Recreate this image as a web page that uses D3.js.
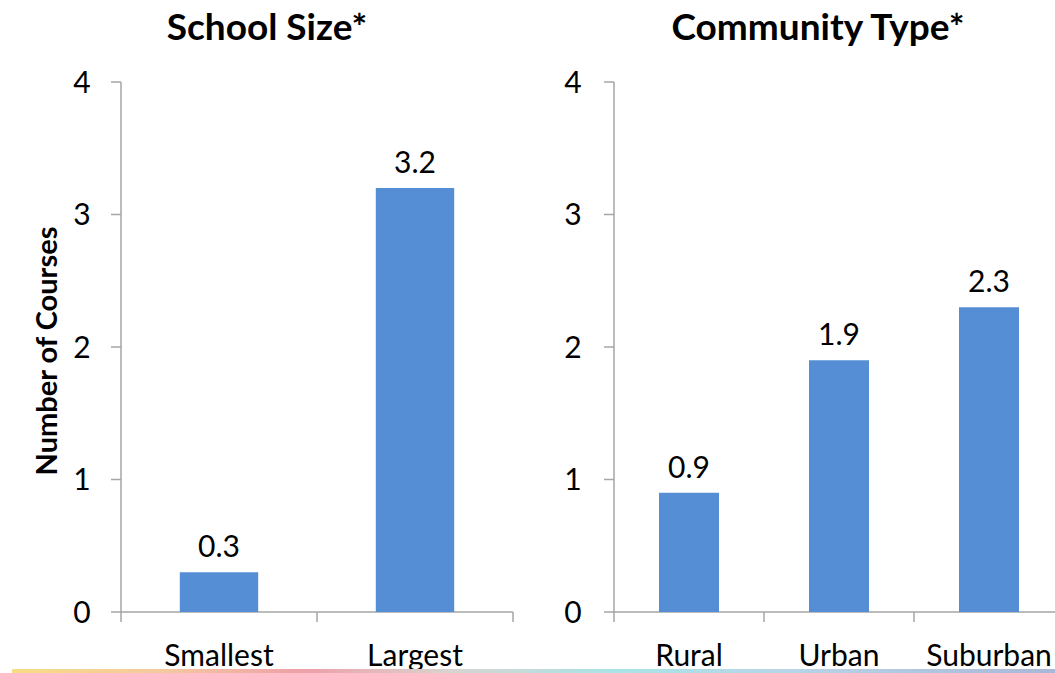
<!DOCTYPE html>
<html><head><meta charset="utf-8">
<script src="https://cdn.jsdelivr.net/npm/d3@7"></script>
<style>
html,body{margin:0;padding:0;background:#fff;}
svg{display:block;font-family:Lato,"Open Sans",sans-serif;}
</style></head>
<body><svg id="c" width="1055" height="673"></svg>
<script>
const sizeCategories = ["Smallest", "Largest"];
const sizeValues = [0.3, 3.2];
const communityCategories = ["Rural", "Urban", "Suburban"];
const communityValues = [0.9, 1.9, 2.3];
const yTicks = [0, 1, 2, 3, 4];
const titles = ["School Size*", "Community Type*"];
const yLabel = "Number of Courses";

const svg = d3.select("#c");
const barColor = "#558ED5";
const axisColor = "#A6A6A6";

const y = d3.scaleLinear().domain([0, 4]).range([612, 82]);

function panel(cats, vals, x0, x1, labelX, title, titleX) {
  const g = svg.append("g");
  g.append("line").attr("x1", x0).attr("x2", x0).attr("y1", y(4)).attr("y2", y(0) + 10)
    .attr("stroke", axisColor).attr("stroke-width", 1.5);
  yTicks.forEach(t => {
    g.append("line").attr("x1", x0 - 10).attr("x2", x0).attr("y1", y(t)).attr("y2", y(t))
      .attr("stroke", axisColor).attr("stroke-width", 1.5);
    g.append("text").attr("x", labelX).attr("y", y(t)).attr("dy", "0.36em")
      .attr("text-anchor", "middle").attr("font-size", 30).attr("fill", "#000").text(t);
  });
  g.append("line").attr("x1", x0).attr("x2", x1).attr("y1", y(0)).attr("y2", y(0))
    .attr("stroke", axisColor).attr("stroke-width", 1.5);
  const xc = d3.scaleBand().domain(cats).range([x0, x1]);
  cats.forEach(c => {
    const px = xc(c) + xc.bandwidth();
    g.append("line").attr("x1", px).attr("x2", px).attr("y1", y(0)).attr("y2", y(0) + 10)
      .attr("stroke", axisColor).attr("stroke-width", 1.5);
  });
  const bw = xc.bandwidth() * 0.4;
  g.selectAll("rect").data(cats).enter().append("rect")
    .attr("x", d => xc(d) + xc.bandwidth() / 2 - bw / 2)
    .attr("width", bw)
    .attr("y", (d, i) => y(vals[i]))
    .attr("height", (d, i) => y(0) - y(vals[i]))
    .attr("fill", barColor);
  g.selectAll("text.v").data(cats).enter().append("text").attr("class", "v")
    .attr("x", d => xc(d) + xc.bandwidth() / 2)
    .attr("y", (d, i) => y(vals[i]) - 15)
    .attr("text-anchor", "middle").attr("font-size", 30).attr("fill", "#000")
    .text((d, i) => vals[i].toFixed(1));
  g.selectAll("text.c").data(cats).enter().append("text").attr("class", "c")
    .attr("x", d => xc(d) + xc.bandwidth() / 2)
    .attr("y", 666)
    .attr("text-anchor", "middle").attr("font-size", 30).attr("fill", "#000")
    .text(d => d);
  svg.append("text").attr("x", titleX).attr("y", 40).attr("text-anchor", "middle")
    .attr("font-size", 37).attr("font-weight", "bold").attr("fill", "#000").text(title);
}

panel(sizeCategories, sizeValues, 121, 513, 82, titles[0], 267);
panel(communityCategories, communityValues, 614, 1064, 573, titles[1], 818);

svg.append("text").attr("transform", "translate(57,351) rotate(-90)")
  .attr("text-anchor", "middle").attr("font-size", 29).attr("font-weight", "bold")
  .attr("fill", "#000").text(yLabel);

const defs = svg.append("defs");
const grad = defs.append("linearGradient").attr("id", "bg").attr("x1", "0%").attr("x2", "100%");
[["0%", "#F7DD85"], ["15%", "#F4C8A0"], ["28%", "#EE9FA8"], ["42%", "#D8D4D0"], ["58%", "#A8E4E6"], ["75%", "#B8D4E8"], ["100%", "#A8B8D8"]]
  .forEach(s => grad.append("stop").attr("offset", s[0]).attr("stop-color", s[1]));
svg.append("rect").attr("x", 12).attr("y", 669).attr("width", 1043).attr("height", 4).attr("fill", "url(#bg)");
</script>
</body></html>
